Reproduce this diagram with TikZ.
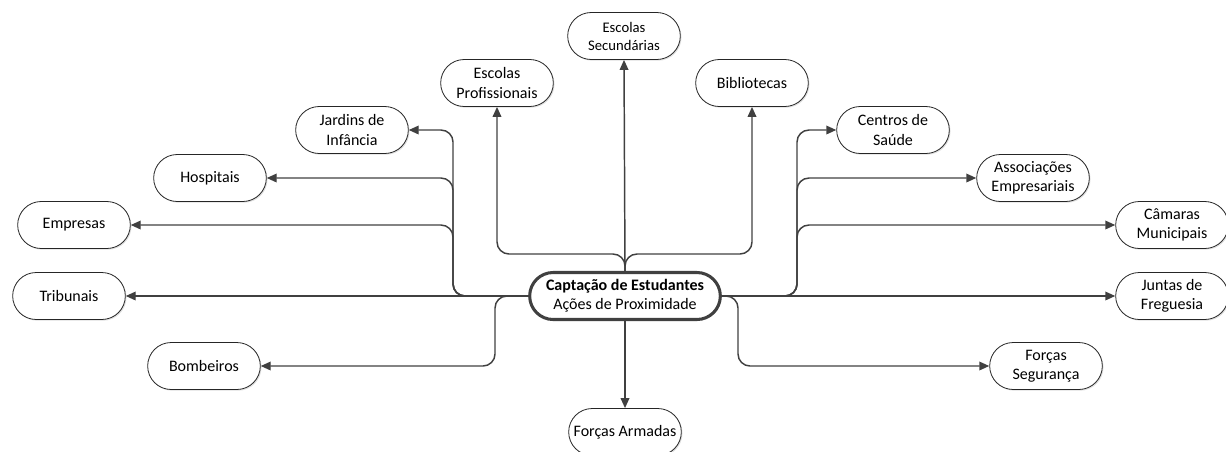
\documentclass[tikz,border=0pt]{standalone}
\usepackage{fontspec}
\setmainfont{Carlito}
\usetikzlibrary{arrows.meta,shapes.misc,shadows}

\begin{document}
\begin{tikzpicture}[x=0.75pt, y=-0.75pt,
        leaf/.style={rounded rectangle, draw=black!85, line width=0.6pt, fill=white,
            minimum width=88.5pt, minimum height=35.25pt, inner sep=2pt, align=center,
            font=\fontsize{12}{14.5}\selectfont,
            drop shadow={shadow xshift=0.9pt, shadow yshift=-0.9pt, opacity=0.25}},
        hub/.style={leaf, draw=black!75, line width=2.3pt, minimum width=147pt},
        link/.style={draw=black!75, line width=1.1pt, rounded corners=9pt,
            -{Triangle[length=7.5pt, width=6.5pt]}}]
        \def\lx{453} % left trunk
        \def\rx{797} % right trunk
        \def\ty{254} % top junction

        % Frame of the picture
        \useasboundingbox (0,0) rectangle (1226,451);

        % Trunk points
        \coordinate (lt) at (\lx,296);
        \coordinate (rt) at (\rx,296);
        \coordinate (tj) at (625,\ty);
        \coordinate (lb) at (495,296);
        \coordinate (rb) at (738,296);

        % Central node
        \node[hub] (hub) at (625,296) {\textbf{Captação de Estudantes}\\Ações de Proximidade};

        % Draw outer nodes
        \foreach \name/\px/\py/\txt in {
                profissionais/497/83/{Escolas\\Profissionais},
                bibliotecas/752/83/{Bibliotecas},
                jardins/352/130/{Jardins de\\Infância},
                centros/893/130/{Centros de\\Saúde},
                hospitais/210/178/{Hospitais},
                associacoes/1033/178/{Associações\\Empresariais},
                empresas/74/225/{Empresas},
                camaras/1172/225/{Câmaras\\Municipais},
                tribunais/69/296/{Tribunais},
                juntas/1172/296/{Juntas de\\Freguesia},
                bombeiros/204/366/{Bombeiros},
                seguranca/1046/366/{Forças\\Segurança},
                armadas/625/432/{Forças Armadas}} {
            \node[leaf] (\name) at (\px,\py) {\txt};
        }
        \node[leaf, font=\fontsize{11}{13.5}\selectfont] (secundarias) at (624,36) {Escolas\\Secundárias};

        % Connectors
        \draw[link] (hub.north) -- (secundarias.south);
        \draw[link] (hub.north) -- (tj) -| (profissionais.south);
        \draw[link] (hub.north) -- (tj) -| (bibliotecas.south);
        \draw[link] (hub.west) -- (lt) |- (jardins.east);
        \draw[link] (hub.west) -- (lt) |- (hospitais.east);
        \draw[link] (hub.west) -- (lt) |- (empresas.east);
        \draw[link] (hub.west) -- (tribunais.east);
        \draw[link] (hub.west) -- (lb) |- (bombeiros.east);
        \draw[link] (hub.east) -- (rt) |- (centros.west);
        \draw[link] (hub.east) -- (rt) |- (associacoes.west);
        \draw[link] (hub.east) -- (rt) |- (camaras.west);
        \draw[link] (hub.east) -- (juntas.west);
        \draw[link] (hub.east) -- (rb) |- (seguranca.west);
        \draw[link] (hub.south) -- (armadas.north);
\end{tikzpicture}
\end{document}
